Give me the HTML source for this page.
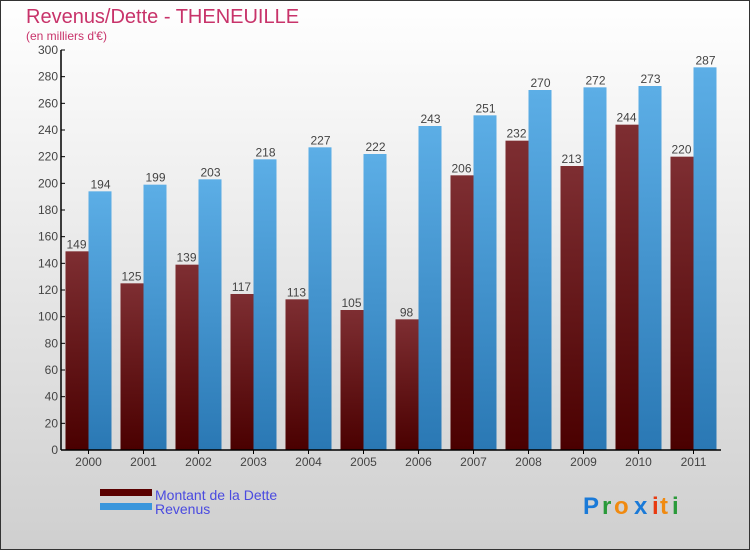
<!DOCTYPE html>
<html><head><meta charset="utf-8"><style>
body{margin:0}
#c{width:750px;height:550px;position:relative;font-family:"Liberation Sans",sans-serif;}
</style></head><body>
<div id="c">
<svg id="s" width="750" height="550" xmlns="http://www.w3.org/2000/svg">
<defs>
<linearGradient id="bg" x1="0" y1="0" x2="0" y2="1"><stop offset="0" stop-color="#ffffff"/><stop offset="1" stop-color="#cfcfcf"/></linearGradient>
<linearGradient id="gd" x1="0" y1="0" x2="0" y2="1"><stop offset="0" stop-color="#7e2e32"/><stop offset="1" stop-color="#4a0000"/></linearGradient>
<linearGradient id="gr" x1="0" y1="0" x2="0" y2="1"><stop offset="0" stop-color="#5caee6"/><stop offset="1" stop-color="#2a78b4"/></linearGradient>
</defs>
<rect x="0.5" y="0.5" width="749" height="549" fill="url(#bg)" stroke="#333"/>
<text x="26" y="23" font-size="20" fill="#c8336a">Revenus/Dette - THENEUILLE</text>
<text x="26" y="40" font-size="12" fill="#c8336a">(en milliers d'€)</text>
<g id="plot"></g>
<rect x="100" y="489" width="52" height="7" fill="#5a0000"/>
<text x="155" y="500" font-size="14" fill="#4a4ae0">Montant de la Dette</text>
<rect x="100" y="503" width="52" height="7" fill="#3a96dc"/>
<text x="155" y="514" font-size="14" fill="#4a4ae0">Revenus</text>
<g font-size="24" font-weight="bold">
<text x="583" y="514" fill="#1a7ad8">P</text><text x="602" y="514" fill="#2a9a3a">r</text><text x="614" y="514" fill="#f08a10">o</text><text x="634" y="514" fill="#1a7ad8">x</text><text x="652" y="514" fill="#e83a10">i</text><text x="660" y="514" fill="#f08a10">t</text><text x="672" y="514" fill="#2a9a3a">i</text>
</g>
</svg>
</div>
<script>
const years=["2000","2001","2002","2003","2004","2005","2006","2007","2008","2009","2010","2011"];
const dette=[149,125,139,117,113,105,98,206,232,213,244,220];
const revenus=[194,199,203,218,227,222,243,251,270,272,273,287];
const yTicks=[0,20,40,60,80,100,120,140,160,180,200,220,240,260,280,300];
const NS="http://www.w3.org/2000/svg";
const g=document.getElementById('plot');
const x0=61,gw=55,yB=450,yT=50,ymax=300;
const y=v=>yB-(yB-yT)*v/ymax;
const cx=i=>x0+gw/2+gw*i;
function el(t,a,txt){const e=document.createElementNS(NS,t);for(const k in a)e.setAttribute(k,a[k]);if(txt!=null)e.textContent=txt;g.appendChild(e);return e;}
years.forEach((yr,i)=>{
 const c=cx(i);
 let b=el('rect',{x:c-23,y:y(dette[i]),width:23,height:yB-y(dette[i]),fill:'url(#gd)'});
 
 
 let r=el('rect',{x:c,y:y(revenus[i]),width:23,height:yB-y(revenus[i]),fill:'url(#gr)'});
 
 
 let t1=el('text',{x:c-12,y:y(dette[i])-3,'font-size':12,fill:'#444','text-anchor':'middle'},dette[i]);
 
 
 let t2=el('text',{x:c+12,y:y(revenus[i])-3,'font-size':12,fill:'#444','text-anchor':'middle'},revenus[i]);
 
 
 el('line',{x1:c,x2:c,y1:yB,y2:yB+4,stroke:'#000'});
 let xl=el('text',{x:c,y:466,'font-size':12,fill:'#444','text-anchor':'middle'},yr);
 
 
});
yTicks.forEach(v=>{
 el('line',{x1:x0,x2:x0+4,y1:y(v),y2:y(v),stroke:'#000'});
 let t=el('text',{x:x0-3,y:y(v)+4,'font-size':12,fill:'#444','text-anchor':'end'},v);
 
 
});
let ya=el('line',{x1:x0,x2:x0,y1:yT,y2:yB,stroke:'#000','stroke-width':1.5});


let xa=el('line',{x1:x0,x2:x0+gw*12,y1:yB,y2:yB,stroke:'#000','stroke-width':1.5});


</script>
</body></html>
